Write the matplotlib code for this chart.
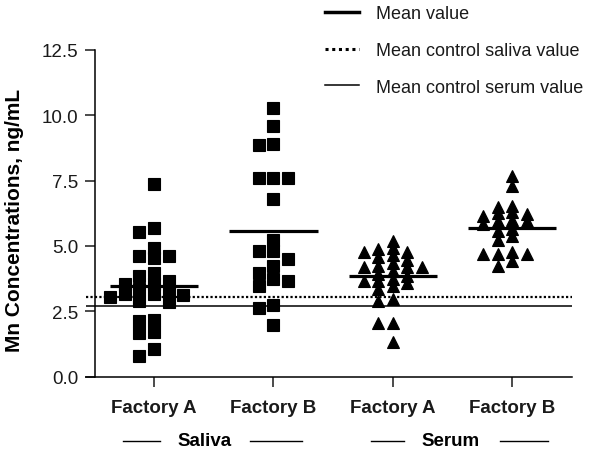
import numpy as np
import matplotlib
matplotlib.use("Agg")
import matplotlib.pyplot as plt
from matplotlib.lines import Line2D
from matplotlib.transforms import blended_transform_factory

plt.rcParams['font.family'] = ['Liberation Sans', 'DejaVu Sans']

# values (ng/mL)
categories = ['Factory A', 'Factory B', 'Factory A', 'Factory B']
groups = ['Saliva', 'Serum']
saliva_a = [7.37, 5.67, 5.52, 4.91, 4.63, 4.60, 4.53, 3.95, 3.84, 3.67, 3.54, 3.54, 3.35,
            3.29, 3.16, 3.16, 3.12, 3.03, 2.90, 2.84, 2.18, 2.14, 1.72, 1.66, 1.06, 0.80]
saliva_b = [10.27, 9.58, 8.88, 8.85, 7.58, 7.58, 7.58, 6.81, 5.23, 4.80, 4.80, 4.50, 4.23,
            3.96, 3.73, 3.65, 3.46, 2.73, 2.62, 1.96]
serum_a = [5.20, 4.92, 4.88, 4.75, 4.75, 4.66, 4.56, 4.46, 4.33, 4.24, 4.20, 4.18, 4.18, 4.05,
           3.93, 3.86, 3.73, 3.67, 3.67, 3.60, 3.48, 3.35, 2.97, 2.88, 2.04, 2.04, 1.31]
serum_b = [7.68, 7.30, 6.54, 6.48, 6.28, 6.26, 6.22, 6.13, 5.99, 5.96, 5.96, 5.84, 5.65, 5.58,
           5.37, 5.24, 4.75, 4.69, 4.69, 4.69, 4.43, 4.24]
means = [3.46, 5.58, 3.84, 5.68]
control_saliva = 3.05
control_serum = 2.72


def swarm(vals, step, gap):
    # simple column scatter: put each point in the nearest free column
    vals = np.asarray(vals, float)
    cols = np.zeros(len(vals))
    taken = []
    for i in np.argsort(vals)[::-1]:
        for k in [0, -1, 1, -2, 2, -3, 3, -4, 4, -5, 5]:
            if all(c != k or abs(vals[i] - v) >= gap for c, v in taken):
                break
        taken.append((k, vals[i]))
        cols[i] = k
    return cols * step


fig = plt.figure(figsize=(6, 4.56), dpi=100)
ax = fig.add_axes([0.1433, 0.1717, 0.81, 0.717])

series = [saliva_a, saliva_b, serum_a, serum_b]
markers = ['s', 's', '^', '^']
for i, (vals, m) in enumerate(zip(series, markers)):
    pos = i + 1
    if m == 's':
        x = pos + swarm(vals, 0.122, 0.36)
        ax.plot(x, vals, 's', color='black', markersize=8, mew=0.8, linestyle='none', zorder=3)
    else:
        x = pos + swarm(vals, 0.122, 0.21)
        ax.plot(x, vals, '^', color='black', markersize=8.5, mew=0.8, linestyle='none', zorder=3)
    ax.hlines(means[i], pos - 0.37, pos + 0.37, color='black', lw=2.3, zorder=4)

ax.axhline(control_saliva, color='black', lw=1.6, linestyle=(0, (1, 1)), zorder=2)
ax.axhline(control_serum, color='black', lw=1.1, zorder=2)

ax.set_xlim(0.43, 4.5)
ax.set_ylim(0, 12.5)
ax.set_xticks([1, 2, 3, 4])
ax.set_xticklabels(categories, fontweight='bold')
ax.set_yticks([0, 2.5, 5, 7.5, 10, 12.5])
ax.set_yticklabels(['%.1f' % v for v in [0, 2.5, 5, 7.5, 10, 12.5]])
ax.tick_params(axis='both', length=7, width=1.1, labelsize=13.5, colors='#1a1a1a', pad=5)
ax.tick_params(axis='x', pad=9)

for s in ['top', 'right']:
    ax.spines[s].set_visible(False)
ax.spines['left'].set_position(('data', 0.503))
ax.spines['left'].set_linewidth(1.1)
ax.spines['bottom'].set_linewidth(1.1)

ax.set_ylabel('Mn Concentrations, ng/mL', fontsize=15, fontweight='bold')
ax.yaxis.set_label_coords(-0.127, 0.48)

# group labels under the categories
trans = blended_transform_factory(ax.transData, ax.transAxes)
ax.text(1.42, -0.195, groups[0], transform=trans, ha='center', va='center',
        fontsize=13.5, fontweight='bold')
ax.text(3.48, -0.195, groups[1], transform=trans, ha='center', va='center',
        fontsize=13.5, fontweight='bold')
for x0, x1 in [(0.74, 1.05), (1.80, 2.24), (2.82, 3.09), (3.90, 4.30)]:
    ax.plot([x0, x1], [-0.198, -0.198], transform=trans, color='black', lw=1, clip_on=False)

handles = [Line2D([], [], color='black', lw=2.5),
           Line2D([], [], color='black', lw=2.2, linestyle=(0, (1, 1.2))),
           Line2D([], [], color='black', lw=1.1)]
labels = ['Mean value', 'Mean control saliva value', 'Mean control serum value']
fig.legend(handles, labels, loc='upper left', bbox_to_anchor=(325 / 600, 1 - 6 / 456),
           frameon=False, fontsize=13, handlelength=1.9, handletextpad=0.95,
           labelspacing=1.1, borderpad=0, borderaxespad=0, labelcolor='#1a1a1a')

fig.savefig('out.png', dpi=100)
